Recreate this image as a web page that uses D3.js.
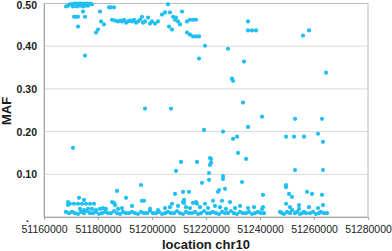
<!DOCTYPE html>
<html><head><meta charset="utf-8">
<script src="https://cdn.jsdelivr.net/npm/d3@7"></script>
<style>
body{margin:0;background:#fff;}
svg{display:block;font-family:"Liberation Sans",Arial,sans-serif;}
</style></head><body>
<svg id="c" width="392" height="251"></svg>
<script>
// ---- data ----
const xTicks = [51160000, 51180000, 51200000, 51220000, 51240000, 51260000, 51280000];
const yTicks = [0, 0.1, 0.2, 0.3, 0.4, 0.5];
const yTickLabels = [".", "0.10", "0.20", "0.30", "0.40", "0.50"];

// high-MAF cluster
const highPos = [51168150,51168890,51169630,51170370,51170740,51171110,51171480,51171850,51172220,51172590,51172960,51173330,51173700,51174080,51174450,51174820,51175190,51175560,51175930,51176300,51176670,51177040,51177780,
51174450,51171110,51171850,51172590,51175190,51172590,51175190,
51180740,51181110,51182220,51180000,51179260,51184080,51184820,51185930,
51185190,51186300,51187410,51188150,51188890,51189630,51190370,51191110,51191850,51192600,51193340,51194080,51194820,51195560,51196300,51196670,51197410,51198520,51199260,51200000,51201110,51202230,
51203710,51204820,51205930,51206670,51207780,51208890,51208520,51209630,51210370,51206300,51207410,51211120,51212970,51214080,51215190,51216300,51212970,51214080,51215190,51216300,51217410,
51219630,51217410,51228150,51234080,51229640,51230010,51235560,51235560,51237040,51238530,51255930,51258160,51264450];
const highMaf = [0.493,0.495,0.498,0.498,0.493,0.500,0.495,0.500,0.493,0.498,0.500,0.495,0.500,0.498,0.493,0.500,0.495,0.498,0.500,0.495,0.498,0.500,0.498,
0.481,0.469,0.469,0.469,0.469,0.446,0.378,
0.481,0.458,0.451,0.439,0.432,0.491,0.491,0.491,
0.462,0.460,0.458,0.460,0.458,0.462,0.455,0.458,0.460,0.458,0.462,0.455,0.458,0.462,0.469,0.455,0.458,0.467,0.453,0.458,0.453,0.458,
0.474,0.479,0.498,0.479,0.469,0.467,0.462,0.458,0.451,0.446,0.439,0.481,0.458,0.462,0.462,0.462,0.432,0.427,0.423,0.423,0.423,
0.401,0.371,0.394,0.364,0.324,0.319,0.458,0.437,0.437,0.437,0.425,0.437,0.338];

// scattered middle values
const midPos = [51197410,51207040,51233710,51240750,51252970,51262970,51219260,51226300,51235560,51230010,51231490,51231860,51234820,
51210750,51216670,51221490,51221860,51221860,51221490,51208890,51221120,51226300,51226300,51233340,51218520,51221120,
51195930,51227040,51224820,51224450,51208520,51211490,51213710,51190370,51196300,51197040,51170740,51187040,51172960,51174820,
51249640,51252600,51256300,51261490,51263340,51252970,51263340,51249640,51249640,51241120,51250750,51251860,51257420,51259270,51262970];
const midMaf = [0.254,0.254,0.268,0.235,0.230,0.230,0.204,0.200,0.211,0.183,0.188,0.150,0.136,
0.129,0.129,0.138,0.136,0.127,0.122,0.108,0.103,0.096,0.089,0.082,0.080,0.087,
0.075,0.066,0.063,0.059,0.054,0.059,0.059,0.045,0.038,0.038,0.162,0.061,0.045,0.040,
0.188,0.188,0.188,0.195,0.176,0.110,0.110,0.075,0.070,0.052,0.054,0.047,0.059,0.054,0.052];

// low band (about 0.02-0.04)
const lowPos = [51168890,51168890,51169630,51171110,51172590,51174080,51175560,51177040,51178520,51173330,51174820,51176300,51177780,51179260,51180740,
51181850,51182960,51186300,51187410,51188890,51185190,51185930,51192600,51207410,51211860,51211490,51215190,51216300,51216670,51219630,51222600,51225930,51228890,51211860,
51249640,51251120,51254450,51258160,51261490,51263340,51241120,51240750,51251860,51254450,
51199260,51202230,51204820,51206670,51209630,51212600,51214080,51217780,51220750,51223340,51225190,51227410,51230750,51232600,51235560,51237780];
const lowMaf = [0.035,0.028,0.031,0.031,0.031,0.031,0.031,0.031,0.031,0.019,0.016,0.019,0.019,0.016,0.019,
0.021,0.019,0.028,0.019,0.021,0.035,0.033,0.026,0.031,0.040,0.035,0.033,0.035,0.031,0.031,0.038,0.038,0.035,0.033,
0.031,0.023,0.028,0.023,0.021,0.028,0.023,0.019,0.016,0.019,
0.019,0.016,0.021,0.023,0.026,0.023,0.021,0.023,0.021,0.026,0.023,0.019,0.021,0.026,0.021,0.023];

// bottom row (about 0.01)
const basePos = [51168150,51169260,51170370,51171480,51172590,51173700,51174820,51175930,51177040,51178150,51179260,51180370,51181480,51182590,51183710,51184820,51185930,51187040,51188150,51189260,
51190370,51191480,51192600,51193710,51194820,51195930,51197040,51198150,51199260,51200370,51201490,51202600,51203710,51204820,51205930,51207040,51208150,51209260,51210370,51211490,
51212600,51213710,51214820,51215930,51217040,51218150,51219260,51220380,51221490,51222600,51223710,51224820,51225930,51227040,51228150,51229260,51230380,51231490,51232600,51233710,
51234820,51235930,51237040,51238150,51239270,51240380,51241490,51247410,51248160,51248900,51250010,51251120,51252970,51253710,51254820,51255560,51256300,51257050,51258530,51259640,
51260750,51261860,51262600,51263710,51264820];
const baseMaf = [0.012,0.009,0.012,0.009,0.007,0.012,0.009,0.014,0.009,0.009,0.012,0.007,0.009,0.012,0.009,0.009,0.014,0.009,0.007,0.012,
0.009,0.009,0.012,0.009,0.007,0.012,0.009,0.009,0.014,0.009,0.009,0.012,0.007,0.009,0.012,0.009,0.009,0.014,0.009,0.007,
0.012,0.009,0.009,0.012,0.007,0.009,0.014,0.009,0.009,0.012,0.009,0.007,0.012,0.009,0.009,0.014,0.009,0.007,0.012,0.009,
0.009,0.012,0.007,0.009,0.012,0.009,0.009,0.012,0.009,0.007,0.012,0.009,0.009,0.012,0.007,0.009,0.012,0.009,0.009,0.012,
0.007,0.009,0.012,0.009,0.009];

// ---- drawing ----
const svg = d3.select("#c");
const L = 44, R = 368, T = 3.5, B = 217;
const x = d3.scaleLinear().domain([51160000, 51280000]).range([L, R]);
const y = d3.scaleLinear().domain([0, 0.5]).range([B, T]);

// gridlines
svg.append("g").selectAll("line").data(yTicks.filter(d => d > 0 && d < 0.5)).join("line")
  .attr("x1", L).attr("x2", R).attr("y1", d => y(d)).attr("y2", d => y(d))
  .attr("stroke", "#d9d9d9").attr("stroke-width", 1);

// frame
svg.append("rect").attr("x", L).attr("y", T).attr("width", R - L).attr("height", B - T)
  .attr("fill", "none").attr("stroke", "#bdbdbd").attr("stroke-width", 1);

// x axis
const xa = svg.append("g").attr("transform", `translate(0,${B})`)
  .call(d3.axisBottom(x).tickValues(xTicks).tickSize(3).tickPadding(6).tickFormat(d3.format("d")));
xa.select(".domain").attr("stroke", "#a6a6a6");
xa.selectAll(".tick line").attr("stroke", "#a6a6a6");
xa.selectAll(".tick text").attr("font-size", "10.5px").attr("fill", "#1a1a1a")
  .attr("font-family", "Liberation Sans, Arial, sans-serif");

// y axis
const ya = svg.append("g").attr("transform", `translate(${L},0)`)
  .call(d3.axisLeft(y).tickValues(yTicks).tickSize(0).tickPadding(7)
    .tickFormat((d, i) => yTickLabels[i]));
ya.select(".domain").attr("stroke", "#a6a6a6");
ya.selectAll(".tick text").attr("font-size", "10.5px").attr("font-weight", "bold").attr("fill", "#1a1a1a")
  .attr("font-family", "Liberation Sans, Arial, sans-serif")
  .attr("x", (d) => d === 0 ? -15 : -7)
  .attr("dy", (d) => d === 0 ? "0.45em" : (d === 0.5 ? "0.45em" : "0.35em"));

// points
const all = [];
[[highPos, highMaf], [midPos, midMaf], [lowPos, lowMaf], [basePos, baseMaf]].forEach(([p, m]) => {
  p.forEach((v, i) => all.push({pos: v, maf: m[i]}));
});
svg.append("g").selectAll("circle").data(all).join("circle")
  .attr("cx", d => x(d.pos)).attr("cy", d => y(d.maf)).attr("r", 2.1)
  .attr("fill", "#1fc0f1");

// axis titles
svg.append("text").attr("x", (L + R) / 2).attr("y", 249)
  .attr("text-anchor", "middle").attr("font-size", "13px").attr("font-weight", "bold").attr("fill", "#1a1a1a")
  .text("location chr10");
svg.append("text").attr("transform", "translate(10.5,111) rotate(-90)")
  .attr("text-anchor", "middle").attr("font-size", "13px").attr("font-weight", "bold").attr("fill", "#1a1a1a")
  .text("MAF");
</script>
</body></html>
